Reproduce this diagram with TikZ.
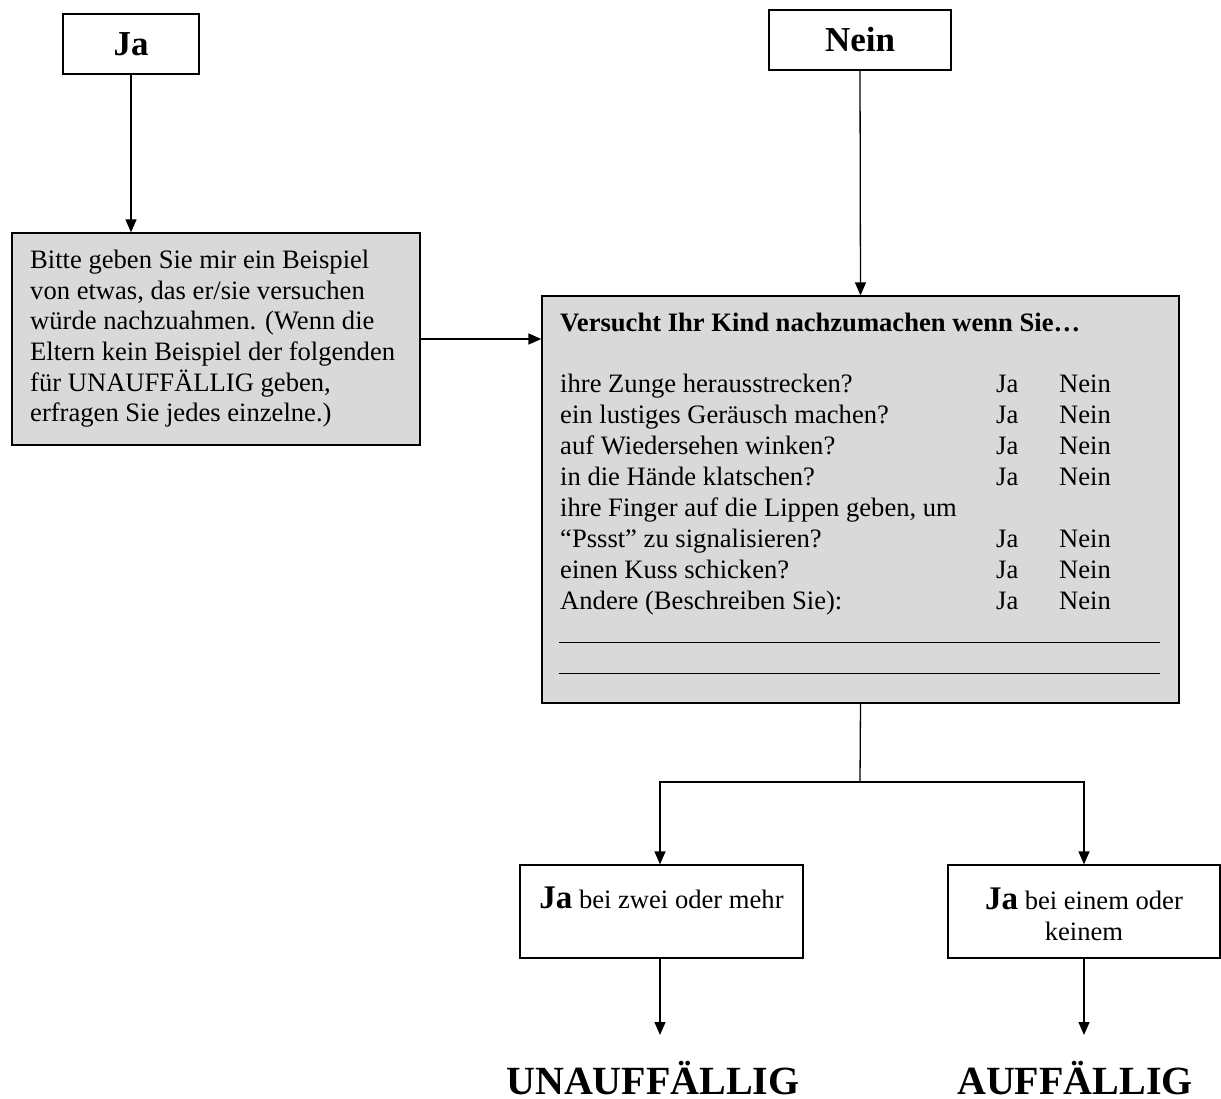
\documentclass[tikz,border=0pt]{standalone}
\usepackage{fontspec}
\setmainfont{Liberation Serif}
\usetikzlibrary{arrows.meta}
\definecolor{boxgray}{HTML}{D9D9D9}
\newcommand\txtfont{\fontsize{26.6pt}{30.6pt}\selectfont}
\newcommand\headfont{\fontsize{35pt}{40pt}\selectfont\bfseries}
\newcommand\bigja{{\fontsize{33pt}{38pt}\selectfont\bfseries Ja}}

\begin{document}
\begin{tikzpicture}[x=1pt,y=-1pt,
  frame/.style={draw=black, line width=1.3pt, inner sep=0pt},
  grayframe/.style={frame, fill=boxgray},
  link/.style={line width=1.3pt, -{Triangle[length=13pt,width=11pt]}},
  plain/.style={line width=1.3pt},
  rowtext/.style={anchor=base west, inner sep=0pt, font=\txtfont},
  result/.style={anchor=base, inner sep=0pt, text depth=0pt,
    font=\fontsize{40pt}{44pt}\selectfont\bfseries}]
\useasboundingbox (0,0) rectangle (1221,1099);

% answer boxes at the top
\node[frame, minimum width=136pt, minimum height=60pt, font=\headfont] (ja) at (131,44) {Ja};
\node[frame, minimum width=182pt, minimum height=60pt, font=\headfont] (nein) at (860,40) {Nein};

% request for an example
\node[grayframe, minimum width=408pt, minimum height=212pt] (ask) at (216,339) {};
\node[anchor=north west, inner sep=0pt, align=left, font=\txtfont] (asktext) at (30,250)
  {Bitte geben Sie mir ein Beispiel\\
   von etwas, das er/sie versuchen\\
   würde nachzuahmen. (Wenn die\\
   Eltern kein Beispiel der folgenden\\
   für UNAUFFÄLLIG geben,\\
   erfragen Sie jedes einzelne.)};

% question list
\node[grayframe, minimum width=637pt, minimum height=407pt] (list) at (860.5,499.5) {};
\node[anchor=base west, inner sep=0pt, font=\txtfont\bfseries] (title) at (560,332)
  {Versucht Ihr Kind nachzumachen wenn Sie…};

\node[rowtext] (q1) at (560,392) {ihre Zunge herausstrecken?};
\node[rowtext] (q2) at (560,423) {ein lustiges Geräusch machen?};
\node[rowtext] (q3) at (560,454) {auf Wiedersehen winken?};
\node[rowtext] (q4) at (560,485) {in die Hände klatschen?};
\node[rowtext] (q5) at (560,516) {ihre Finger auf die Lippen geben, um};
\node[rowtext] (q6) at (560,547) {“Pssst” zu signalisieren?};
\node[rowtext] (q7) at (560,578) {einen Kuss schicken?};
\node[rowtext] (q8) at (560,609) {Andere (Beschreiben Sie):};

\foreach \r/\yy in {1/392,2/423,3/454,4/485,6/547,7/578,8/609}{
  \node[rowtext] (yes\r) at (996,\yy) {Ja};
  \node[rowtext] (no\r) at (1059,\yy) {Nein};
}

% blank lines for other answers
\coordinate (l1a) at (559,642); \coordinate (l1b) at (1160,642);
\coordinate (l2a) at (559,673); \coordinate (l2b) at (1160,673);
\draw[line width=1pt] (l1a) -- (l1b);
\draw[line width=1pt] (l2a) -- (l2b);

% scoring boxes
\node[frame, minimum width=283pt, minimum height=93pt] (few) at (661.5,911.5) {};
\node[anchor=base, inner sep=0pt, font=\txtfont] (fewtext) at (661.5,908) {\bigja{} bei zwei oder mehr};
\node[frame, minimum width=272pt, minimum height=93pt] (none) at (1084,911.5) {};
\node[anchor=base, inner sep=0pt, align=center, font=\txtfont] (nonetext) at (1084,940)
  {\bigja{} bei einem oder\\keinem};

% results
\node[result] (pass) at (653,1094) {UNAUFFÄLLIG};
\node[result] (fail) at (1075,1094) {AUFFÄLLIG};
\coordinate (passin) at (660,1035);
\coordinate (failin) at (1084,1035);

% connectors
\draw[link] (ja.south) -- (ja.south |- ask.north);
\draw[link] (nein.south) -- (list.north);
\draw[link] (ask.east) -- (ask.east -| list.west);
\coordinate (split) at (860,782);
\draw[plain] (list.south) -- (split);
\draw[link] (split) -| (passin |- few.north);
\draw[link] (split) -| (none.north);
\draw[link] (passin |- few.south) -- (passin);
\draw[link] (none.south) -- (failin);
\end{tikzpicture}
\end{document}
